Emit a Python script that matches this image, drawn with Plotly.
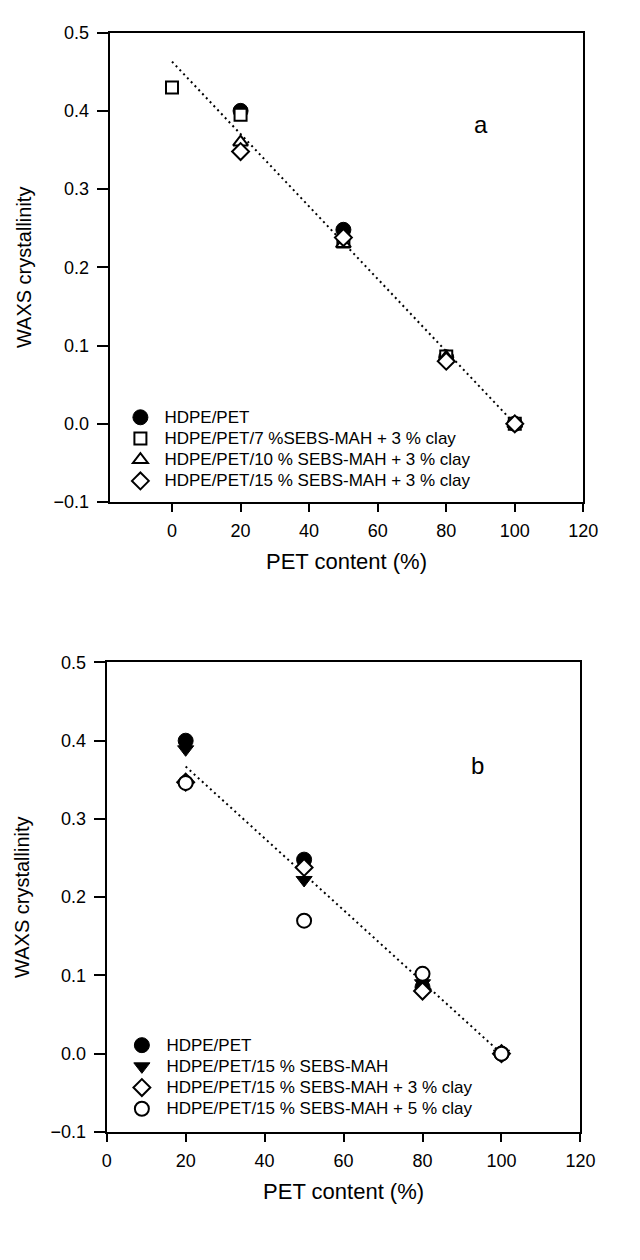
import plotly.graph_objects as go

# ---------------- data ----------------
# Panel a
a_hdpe_x = [20, 50, 80, 100]
a_hdpe_y = [0.400, 0.248, 0.085, 0.0]
a_s7_x = [0, 20, 50, 80, 100]
a_s7_y = [0.430, 0.395, 0.233, 0.086, 0.0]
a_s10_x = [20, 50, 80, 100]
a_s10_y = [0.360, 0.230, 0.085, 0.0]
a_s15_x = [20, 50, 80, 100]
a_s15_y = [0.348, 0.238, 0.080, 0.0]
a_fit_x = [0, 100]
a_fit_y = [0.463, 0.0]

# Panel b
b_hdpe_x = [20, 50, 80, 100]
b_hdpe_y = [0.400, 0.248, 0.085, 0.0]
b_s15_x = [20, 50, 80, 100]
b_s15_y = [0.389, 0.222, 0.090, 0.0]
b_s15c3_x = [20, 50, 80, 100]
b_s15c3_y = [0.347, 0.238, 0.080, 0.0]
b_s15c5_x = [20, 50, 80, 100]
b_s15c5_y = [0.346, 0.170, 0.102, 0.0]
b_fit_x = [20, 100]
b_fit_y = [0.367, 0.0]

a_names = ["HDPE/PET", "HDPE/PET/7 %SEBS-MAH + 3 % clay",
           "HDPE/PET/10 % SEBS-MAH + 3 % clay", "HDPE/PET/15 % SEBS-MAH + 3 % clay"]
b_names = ["HDPE/PET", "HDPE/PET/15 % SEBS-MAH",
           "HDPE/PET/15 % SEBS-MAH + 3 % clay", "HDPE/PET/15 % SEBS-MAH + 5 % clay"]

x_ticks = [0, 20, 40, 60, 80, 100, 120]
y_ticks = [-0.1, 0.0, 0.1, 0.2, 0.3, 0.4, 0.5]

FONT = "Liberation Sans, Arial, sans-serif"
LEG_TXT = 17


def lname(s):
    return '<span style="font-size:%dpx">%s</span>' % (LEG_TXT, s)


fig = go.Figure()

dot = dict(color="black", width=2, dash="2px,3.5px")
fig.add_trace(go.Scatter(x=a_fit_x, y=a_fit_y, mode="lines", line=dot,
                         showlegend=False, xaxis="x", yaxis="y", hoverinfo="skip"))
fig.add_trace(go.Scatter(x=b_fit_x, y=b_fit_y, mode="lines", line=dot,
                         showlegend=False, xaxis="x2", yaxis="y2", hoverinfo="skip"))

filled = lambda sym, sz: dict(symbol=sym, size=sz, color="black",
                              line=dict(color="black", width=1))
openm = lambda sym, sz: dict(symbol=sym, size=sz, color="white",
                             line=dict(color="black", width=2))

# panel a series
for xs, ys, nm, mk in [
    (a_hdpe_x, a_hdpe_y, a_names[0], filled("circle", 15)),
    (a_s7_x, a_s7_y, a_names[1], openm("square", 12)),
    (a_s10_x, a_s10_y, a_names[2], openm("triangle-up", 13)),
    (a_s15_x, a_s15_y, a_names[3], openm("diamond", 13)),
]:
    fig.add_trace(go.Scatter(x=xs, y=ys, mode="markers", name=lname(nm), marker=mk,
                             xaxis="x", yaxis="y", legend="legend"))

# panel b series
for xs, ys, nm, mk in [
    (b_hdpe_x, b_hdpe_y, b_names[0], filled("circle", 15)),
    (b_s15_x, b_s15_y, b_names[1], filled("triangle-down", 14)),
    (b_s15c3_x, b_s15c3_y, b_names[2], openm("diamond", 13)),
    (b_s15c5_x, b_s15c5_y, b_names[3], openm("circle", 14)),
]:
    fig.add_trace(go.Scatter(x=xs, y=ys, mode="markers", name=lname(nm), marker=mk,
                             xaxis="x2", yaxis="y2", legend="legend2"))

common_x = dict(tickvals=x_ticks, ticks="outside", ticklen=8, tickwidth=1.5,
                tickcolor="black", showline=True, linewidth=2, linecolor="black",
                mirror=True, showgrid=False, zeroline=False, ticklabelstandoff=3,
                tickfont=dict(size=18, color="black", family=FONT),
                title=dict(text="PET content (%)", font=dict(size=22, color="black", family=FONT),
                           standoff=14))
common_y = dict(tickvals=y_ticks, tickformat=".1f", ticks="outside", ticklen=11,
                tickwidth=1.5, tickcolor="black", showline=True, linewidth=2,
                linecolor="black", mirror=True, showgrid=False, zeroline=False,
                range=[-0.1, 0.5], ticklabelstandoff=4,
                tickfont=dict(size=18, color="black", family=FONT),
                title=dict(text="WAXS crystallinity", font=dict(size=20, color="black", family=FONT),
                           standoff=16))

fig.update_layout(
    width=640, height=1260,
    margin=dict(l=0, r=0, t=0, b=0),
    paper_bgcolor="white", plot_bgcolor="white",
    font=dict(family=FONT, color="black"),
    xaxis=dict(common_x, domain=[108/640, 597/640], range=[-18.2, 120], anchor="y"),
    yaxis=dict(common_y, domain=[1-500/1260, 1-23/1260], anchor="x"),
    xaxis2=dict(common_x, domain=[105/640, 594/640], range=[0, 120], anchor="y2"),
    yaxis2=dict(common_y, domain=[1-1140/1260, 1-663/1260], anchor="x2"),
    legend=dict(x=115/640, y=1-398/1260, xanchor="left", yanchor="top",
                bgcolor="rgba(0,0,0,0)", borderwidth=0, itemwidth=38,
                font=dict(size=14, color="black", family=FONT)),
    legend2=dict(x=116/640, y=1-1036/1260, xanchor="left", yanchor="top",
                 bgcolor="rgba(0,0,0,0)", borderwidth=0, itemwidth=39,
                 font=dict(size=14, color="black", family=FONT)),
    annotations=[
        dict(text="a", x=90, y=0.382, xref="x", yref="y", showarrow=False,
             font=dict(size=24, color="black", family=FONT)),
        dict(text="b", x=94, y=0.368, xref="x2", yref="y2", showarrow=False,
             font=dict(size=24, color="black", family=FONT)),
    ],
)

fig.write_html("out.html")
